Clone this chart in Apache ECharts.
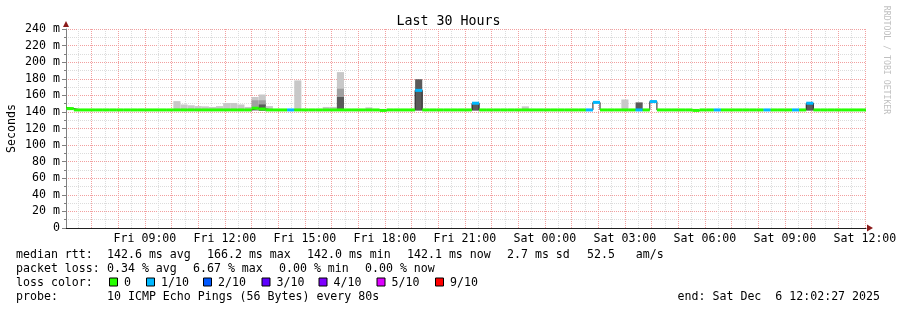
<!DOCTYPE html>
<html><head><meta charset="utf-8">
<script src="https://cdn.jsdelivr.net/npm/echarts@6/dist/echarts.min.js"></script>
<style>html,body{margin:0;padding:0;background:#fff}#c{width:897px;height:310px}</style>
</head><body><div id="c"></div>
<script>
// ---- data (hours since Fri 00:00 local) ----
const xStart = 6.040833;   // Fri 06:02:27
const xEnd = 36.040833;    // Sat 12:02:27
const colFirst = 5.8;      // start of the first (partial) 16-minute column
const colStepMin = 16;     // RRA step, minutes
const _ = null;

const median = [
145.5,144,142.4,142.4,142.4,142.4,142.4,142.4,142.4,142.4,
142.4,142.4,142.4,142.4,142.4,142.4,142.4,142.4,142.4,142.4,
142.4,142.4,142.4,142.4,142.4,142.4,142.4,144.5,143.5,142.4,
142.4,142.4,142.4,142.4,142.4,142.4,142.4,142.4,142.4,142.4,
142.4,142.4,142.4,142.4,142.4,141.8,142.4,142.4,142.4,142.4,
166,142.4,142.4,142.4,142.4,142.4,142.4,142.4,150.5,142.4,
142.4,142.4,142.4,142.4,142.4,142.4,142.4,142.4,142.4,142.4,
142.4,142.4,142.4,142.4,142.4,151.5,142.4,142.4,142.4,142.4,
142.4,142.4,142.4,152.5,142.4,142.4,142.4,142.4,142.4,141.8,
142.4,142.4,142.4,142.4,142.4,142.4,142.4,142.4,142.4,142.4,
142.4,142.4,142.4,142.4,142.4,150.5,142.4,142.4,142.4,142.4,
142.4,142.4,142.4,142.4
];
const lostPings = [
0,0,0,0,0,0,0,0,0,0,
0,0,0,0,0,0,0,0,0,0,
0,0,0,0,0,0,0,0,0,0,
0,0,1,0,0,0,0,0,0,0,
0,0,0,0,0,0,0,0,0,0,
1,0,0,0,0,0,0,0,1,0,
0,0,0,0,0,0,0,0,0,0,
0,0,0,0,1,1,0,0,0,0,
0,1,0,1,0,0,0,0,0,0,
0,0,1,0,0,0,0,0,0,1,
0,0,0,1,0,1,0,0,0,0,
0,0,0,0
];
const smokeFloor = 141.5;
const smokeLight = [
_,_,_,_,_,_,_,_,_,_,
_,_,_,_,_,_,153,149,148,147,
146.7,146,147,150.7,150.7,149,146,158,161,147,
_,_,_,178,_,_,_,146,146,188,
_,_,_,145.5,_,_,_,_,_,_,
_,_,_,_,_,_,_,_,_,_,
_,_,_,_,_,146.7,_,_,_,_,
_,_,_,_,_,_,_,_,_,155,
_,_,_,_,_,_,_,_,_,_,
_,_,_,_,_,_,_,_,_,_,
_,_,_,_,_,_,_,_,_,_,
_,_,_,_
];
const smokeMid = [
_,_,_,_,_,_,_,_,_,_,
_,_,_,_,_,_,_,_,_,_,
_,_,_,_,_,_,_,154,154,_,
_,_,_,_,_,_,_,_,_,168,
_,_,_,_,_,_,_,_,_,_,
_,_,_,_,_,_,_,_,_,_,
_,_,_,_,_,_,_,_,_,_,
_,_,_,_,_,_,_,_,_,_,
_,_,_,_,_,_,_,_,_,_,
_,_,_,_,_,_,_,_,_,_,
_,_,_,_,_,_,_,_,_,_,
_,_,_,_
];
const smokeDark = [
_,_,_,_,_,_,_,_,_,_,
_,_,_,_,_,_,_,_,_,_,
_,_,_,_,_,_,_,_,149,_,
_,_,_,_,_,_,_,_,_,158,
_,_,_,_,_,_,_,_,_,_,
179.4,_,_,_,_,_,_,_,150.5,_,
_,_,_,_,_,_,_,_,_,_,
_,_,_,_,_,_,_,_,_,_,
_,151.5,_,_,_,_,_,_,_,_,
_,_,_,_,_,_,_,_,_,_,
_,_,_,_,_,150.5,_,_,_,_,
_,_,_,_
];

const xTickHours = [9,12,15,18,21,24,27,30,33,36];
const xTickLabels = ['Fri 09:00','Fri 12:00','Fri 15:00','Fri 18:00','Fri 21:00','Sat 00:00','Sat 03:00','Sat 06:00','Sat 09:00','Sat 12:00'];
const yTickValues = [0,20,40,60,80,100,120,140,160,180,200,220,240];
const yTickLabels = ['0','20 m','40 m','60 m','80 m','100 m','120 m','140 m','160 m','180 m','200 m','220 m','240 m'];

const titleText = 'Last 30 Hours';
const yName = 'Seconds';
const rttHead = 'median rtt:';
const rttStats = ['142.6 ms avg','166.2 ms max','142.0 ms min','142.1 ms now','2.7 ms sd','52.5   am/s'];
const lossHead = 'packet loss:';
const lossStats = ['0.34 % avg','6.67 % max','0.00 % min','0.00 % now'];
const colorHead = 'loss color:';
const lossLabels = ['0','1/10','2/10','3/10','4/10','5/10','9/10'];
const lossColors = ['#26ff00','#00b8ff','#0059ff','#5e00ff','#7e00ff','#dd00ff','#ff0000'];
const probeHead = 'probe:';
const probeText = '10 ICMP Echo Pings (56 Bytes) every 80s';
const endText = 'end: Sat Dec  6 12:02:27 2025';
const creditText = 'RRDTOOL / TOBI OETIKER';

// ---- build tables ----
const step = colStepMin / 60;
function colStart(j){ return Math.max(xStart, colFirst + j*step); }
function colEnd(j){ return Math.min(xEnd, colFirst + (j+1)*step); }
function lossClass(n){ return n >= 6 ? 6 : n; }

const smokeRows = [];
const layers = [smokeLight, smokeMid, smokeDark];
for (let j = 0; j < median.length; j++) {
  layers.forEach((arr, li) => {
    if (arr[j] != null) smokeRows.push([colStart(j), colEnd(j), smokeFloor, arr[j], li]);
  });
}
const medianLine = median.map((m, j) => [colStart(j), m]);
medianLine.push([xEnd, median[median.length-1]]);
const lossRows = median.map((m, j) => [colStart(j), colEnd(j), m, lossClass(lostPings[j])]);

const FONT = 'DejaVu Sans Mono';
const FS = 11.6;
const smokeColors = ['#c8c8c8','#a0a0a0','#5a5a5a'];
const majorGrid = '#f2a0a0';
const minorGrid = '#dcdcdc';

// ---- legend graphics ----
const g = [];
function txt(x, y, s){
  g.push({type:'text', x:x, y:y, silent:true,
    style:{text:s, fontFamily:FONT, fontSize:FS, fill:'#000', verticalAlign:'middle', align:'left'}});
}
const rowY = [254.5, 268.5, 282.5, 296.5];
txt(16, rowY[0], rttHead);
const rttX = [107,207,307,407,507,587];
rttStats.forEach((s,i)=>txt(rttX[i], rowY[0], s));
txt(16, rowY[1], lossHead);
const lossX = [107,193,279,365];
lossStats.forEach((s,i)=>txt(lossX[i], rowY[1], s));
txt(16, rowY[2], colorHead);
const sqX = [109,146,203,261.5,318.5,376.5,435];
lossLabels.forEach((s,i)=>{
  g.push({type:'rect', silent:true, shape:{x:sqX[i]+0.5, y:rowY[2]-4.5, width:8, height:8},
    style:{fill:lossColors[i], stroke:'#000', lineWidth:1}});
  txt(sqX[i]+15, rowY[2], s);
});
txt(16, rowY[3], probeHead);
txt(107, rowY[3], probeText);
g.push({type:'text', x:880, y:rowY[3], silent:true,
  style:{text:endText, fontFamily:FONT, fontSize:FS, fill:'#000', verticalAlign:'middle', align:'right'}});
g.push({type:'text', x:886, y:60, rotation:-Math.PI/2, silent:true,
  style:{text:creditText, fontFamily:FONT, fontSize:8.2, fill:'#c0c0c0', verticalAlign:'middle', align:'center'}});

const chart = echarts.init(document.getElementById('c'), null, {renderer:'canvas'});
chart.setOption({
  animation:false,
  backgroundColor:'#ffffff',
  title:{text:titleText, left:'center', top:10,
    textStyle:{fontFamily:FONT, fontSize:13.3, fontWeight:'normal', color:'#000'}},
  grid:{left:66, top:29, width:800, height:199, containLabel:false, outerBoundsMode:'none'},
  xAxis:[{
    type:'value', min:xStart, max:xEnd, minInterval:1, maxInterval:1,
    axisLine:{show:true, onZero:false, lineStyle:{color:'#202020', width:1}},
    axisTick:{show:false},
    axisLabel:{margin:5, fontFamily:FONT, fontSize:FS, color:'#000', hideOverlap:false,
      formatter:function(v){ for (let i=0;i<xTickHours.length;i++){ if (Math.abs(v-xTickHours[i])<1e-6) return xTickLabels[i]; } return ''; }},
    splitLine:{show:true, showMinLine:false, showMaxLine:false, lineStyle:{color:majorGrid, type:[1,1], width:1}},
    minorTick:{show:false, splitNumber:2},
    minorSplitLine:{show:true, lineStyle:{color:minorGrid, type:[1,1], width:1}}
  },{
    type:'value', min:xStart, max:xEnd, position:'bottom',
    axisLine:{show:true, onZero:false, symbol:['none','triangle'], symbolSize:[7,6], symbolOffset:[0,4],
      lineStyle:{color:'#8b1a1a', width:0}},
    axisTick:{show:false}, axisLabel:{show:false}, splitLine:{show:false}, minorSplitLine:{show:false}
  }],
  yAxis:[{
    type:'value', min:0, max:240, interval:20,
    name:yName, nameLocation:'middle', nameGap:48, nameRotate:90, nameMoveOverlap:false,
    nameTextStyle:{fontFamily:FONT, fontSize:FS, color:'#000'},
    axisLine:{show:true, lineStyle:{color:'#808080', width:1}},
    axisTick:{show:true, length:4, lineStyle:{color:'#808080'}},
    minorTick:{show:true, splitNumber:2, length:2, lineStyle:{color:'#808080'}},
    axisLabel:{margin:6, fontFamily:FONT, fontSize:FS, color:'#000',
      formatter:function(v){ const i = yTickValues.indexOf(v); return i>=0 ? yTickLabels[i] : ''; }},
    splitLine:{show:true, lineStyle:{color:majorGrid, type:[1,1], width:1}},
    minorSplitLine:{show:true, lineStyle:{color:minorGrid, type:[1,1], width:1}}
  },{
    type:'value', min:0, max:240, position:'left',
    axisLine:{show:true, symbol:['none','triangle'], symbolSize:[6,6], symbolOffset:[0,5],
      lineStyle:{color:'#8b1a1a', width:0}},
    axisTick:{show:false}, axisLabel:{show:false}, splitLine:{show:false}, minorSplitLine:{show:false}
  }],
  series:[{
    name:'smoke', type:'custom', silent:true, clip:true, z:2,
    data:smokeRows, encode:{x:[0,1], y:[2,3]},
    renderItem:function(params, api){
      const a = api.coord([api.value(0), api.value(3)]);
      const b = api.coord([api.value(1), api.value(2)]);
      return {type:'rect', shape:{x:a[0], y:a[1], width:b[0]-a[0], height:b[1]-a[1]},
        style:{fill:smokeColors[api.value(4)]}};
    }
  },{
    name:'median', type:'line', step:'end', silent:true, z:3,
    data:medianLine, symbol:'none', lineStyle:{color:'#202020', width:1}
  },{
    name:'loss', type:'custom', silent:true, clip:true, z:4,
    data:lossRows, encode:{x:[0,1], y:2},
    renderItem:function(params, api){
      const a = api.coord([api.value(0), api.value(2)]);
      const b = api.coord([api.value(1), api.value(2)]);
      return {type:'rect', shape:{x:a[0], y:a[1]-1.5, width:b[0]-a[0], height:3},
        style:{fill:lossColors[api.value(3)]}};
    }
  }],
  graphic:g
});
</script></body></html>
